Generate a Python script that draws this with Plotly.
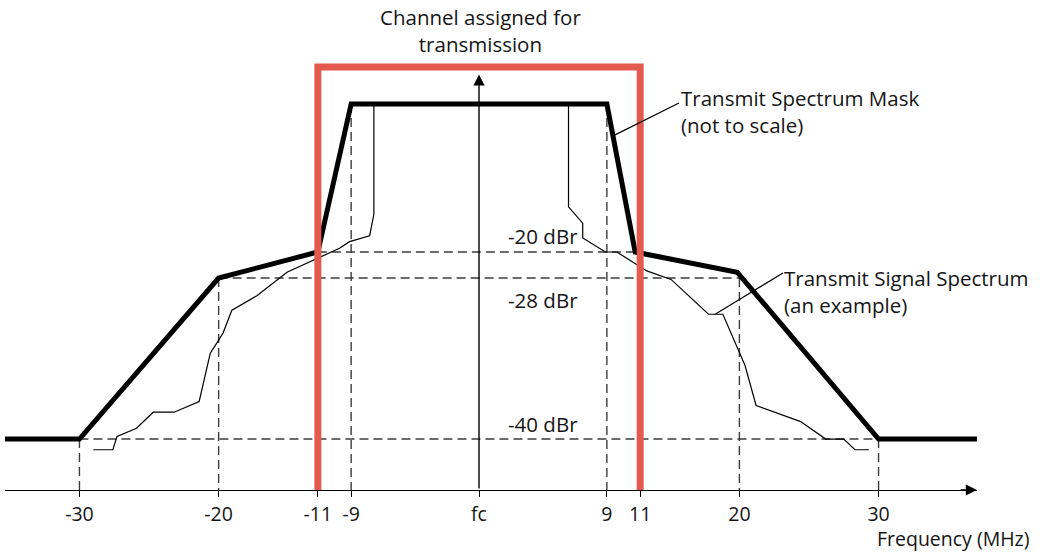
import numpy as np
import plotly.graph_objects as go

# ---------------- data (frequency offset from fc in MHz, level in dBr) ----------------
tick_freqs = [-30, -20, -11, -9, 0, 9, 11, 20, 30]
tick_labels = ["-30", "-20", "-11", "-9", "fc", "9", "11", "20", "30"]

mask_freq = [-36, -30, -20, -11, -9, 9, 10.7, 19.8, 30, 38]
mask_dbr = [-40, -40, -28, -20, 0, 0, -20, -26.2, -40, -40]

signal_freq = [-29.0, -27.6, -27.3, -25.9, -24.7, -23.2, -21.4, -20.6, -20.1, -19.6,
               -18.8, -16.5, -13.8, -11.4, -9.7, -9.1, -7.7, -7.4, -7.4,
               6.3, 6.3, 7.3, 7.3, 8.9, 9.6, 11.6, 13.8, 17.2, 18.5, 20.4,
               21.2, 24.4, 26.2, 27.5, 28.3, 29.3]
signal_dbr = [-40.8, -40.8, -39.8, -39.2, -38.0, -38.0, -37.2, -33.6, -32.8, -32.1,
              -30.4, -29.3, -26.2, -22.5, -19.5, -18.6, -17.8, -14.9, 0,
              0, -13.9, -16.1, -18.1, -20, -20, -25.8, -28.1, -30.7, -30.7, -34.5,
              -37.5, -38.7, -40, -40, -40.8, -40.8]

level_dbr = [-20, -28, -40]           # reference levels
level_labels = ["-20 dBr", "-28 dBr", "-40 dBr"]
level_half_span = [11, 20, 30]        # MHz each side of fc
corner_dbr = [-40, -28, -20, 0, None, 0, -20, -28, -40]   # level at each tick frequency
channel_edges = [-11, 11]
channel_top_dbr = 5
arrow_top_dbr = 4
floor_dbr = -43.8

# ---------------- "not to scale" drawing scale ----------------
X_SRC = [-30, -20, -11, -9, 0, 9, 11, 20, 30]
X_DST = [-30, -19.55, -12.1, -9.6, 0, 9.6, 12.1, 19.55, 30]
Y_SRC = [-40, -28, -20, 0]
Y_DST = [-40, -20.78, -17.67, 0]


def warp(v, src, dst):
    v = np.atleast_1d(np.asarray(v, dtype=float))
    out = np.interp(v, src, dst)
    lo = v < src[0]
    hi = v > src[-1]
    out[lo] = dst[0] + (v[lo] - src[0]) * (dst[1] - dst[0]) / (src[1] - src[0])
    out[hi] = dst[-1] + (v[hi] - src[-1]) * (dst[-1] - dst[-2]) / (src[-1] - src[-2])
    return out


def fx(v):
    return warp(v, X_SRC, X_DST)


def fy(v):
    return warp(v, Y_SRC, Y_DST)


W, H = 1043, 552
ML, MR, MT, MB = 5, 66, 0, 62
XR = [-35.59, 37.39]
YR = [float(fy(floor_dbr)[0]), 12.42]
PW, PH = W - ML - MR, H - MT - MB


def px(xp, yp):
    """pixel position -> drawing coordinates (layout placement helper)"""
    x = XR[0] + (xp - ML) / PW * (XR[1] - XR[0])
    y = YR[1] - (yp - MT) / PH * (YR[1] - YR[0])
    return x, y


def paper(xp, yp):
    return (xp - ML) / PW, 1 - (yp - MT) / PH


FONT = "Open Sans"
FS = 20.5
TXT = "#151515"
RED = "#E35B4E"
DASH = dict(color="#3c3c3c", width=1.4, dash="9px,5px")

fig = go.Figure()

# horizontal reference levels
for lv, hs in zip(level_dbr, level_half_span):
    fig.add_trace(go.Scatter(x=fx([-hs, hs]), y=fy([lv, lv]), mode="lines",
                             line=DASH, hoverinfo="skip", showlegend=False))
# vertical drop lines
for f, lv in zip(tick_freqs, corner_dbr):
    if lv is None:
        continue
    fig.add_trace(go.Scatter(x=fx([f, f]), y=fy([lv, floor_dbr]), mode="lines",
                             line=DASH, hoverinfo="skip", showlegend=False))

# transmit signal spectrum
fig.add_trace(go.Scatter(x=fx(signal_freq), y=fy(signal_dbr), mode="lines",
                         line=dict(color="black", width=1.2), showlegend=False))
# transmit spectrum mask
fig.add_trace(go.Scatter(x=fx(mask_freq), y=fy(mask_dbr), mode="lines",
                         line=dict(color="black", width=5), showlegend=False))

# channel box
xl, xr_ = fx(channel_edges)
yb = YR[0]
yt = float(fy(channel_top_dbr)[0])
fig.add_shape(type="path", xref="x", yref="y", layer="above",
              path=f"M{xl},{yb} L{xl},{yt} L{xr_},{yt} L{xr_},{yb}",
              line=dict(color=RED, width=7))

# leader lines
m_pt = (fx(9.37)[0], fy(-4.3)[0])
m_end = px(679, 103)
fig.add_shape(type="line", xref="x", yref="y", x0=m_pt[0], y0=m_pt[1],
              x1=m_end[0], y1=m_end[1], line=dict(color="black", width=1.2))
s_pt = (fx(17.8)[0], fy(-30.7)[0])
s_end = px(783, 273)
fig.add_shape(type="line", xref="x", yref="y", x0=s_pt[0], y0=s_pt[1],
              x1=s_end[0], y1=s_end[1], line=dict(color="black", width=1.2))

# vertical fc arrow
fig.add_annotation(x=0, y=float(fy(arrow_top_dbr)[0]), ax=0, ay=YR[0],
                   xref="x", yref="y", axref="x", ayref="y", text="",
                   showarrow=True, arrowhead=2, arrowsize=1.6, arrowwidth=1.4,
                   arrowcolor="black")
# x axis arrow head
fig.add_annotation(x=1, y=0, xref="paper", yref="paper", ax=-18, ay=0, text="",
                   showarrow=True, arrowhead=2, arrowsize=1.6, arrowwidth=1.4,
                   arrowcolor="black")


def label(text, xp, yp, xanchor="left", size=FS):
    x, y = paper(xp, yp)
    fig.add_annotation(x=x, y=y, xref="paper", yref="paper", text=text, showarrow=False,
                       xanchor=xanchor, yanchor="middle", align=xanchor,
                       borderpad=0, font=dict(family=FONT, size=size, color=TXT))


# level labels
for lab, ypix in zip(level_labels, [236, 300, 424]):
    label(lab, 543, ypix, "center")

label("Channel assigned for<br>transmission", 480, 31, "center")
label("Transmit Spectrum Mask<br>(not to scale)", 680, 111)
label("Transmit Signal Spectrum<br>(an example)", 783, 291)
label("Frequency (MHz)", 1031, 538.5, "right", 19.5)

fig.update_xaxes(range=XR, showgrid=False, zeroline=False, showline=True,
                 linecolor="black", linewidth=1.4, ticks="outside", ticklen=6,
                 tickwidth=1.4, tickcolor="black",
                 tickvals=fx(tick_freqs), ticktext=tick_labels,
                 tickfont=dict(family=FONT, size=19.5, color=TXT))
fig.update_yaxes(range=YR, showgrid=False, zeroline=False, showline=False,
                 showticklabels=False, ticks="")

fig.update_layout(width=W, height=H, margin=dict(l=ML, r=MR, t=MT, b=MB),
                  plot_bgcolor="white", paper_bgcolor="white", showlegend=False)

fig.write_html("out.html", config={"displayModeBar": False},
               post_script="document.body.style.margin='0';")
